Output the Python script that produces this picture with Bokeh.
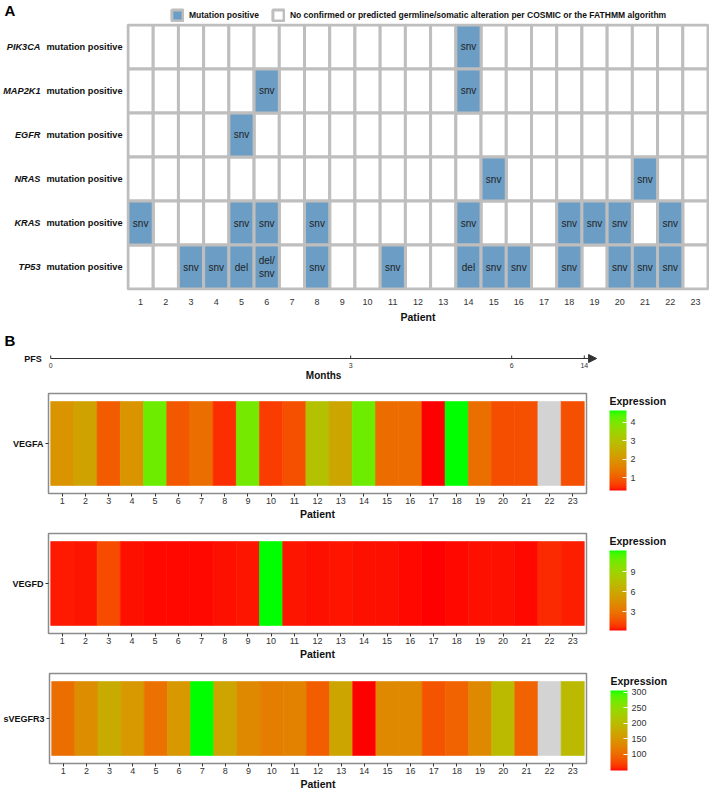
import math
from bokeh.plotting import figure
from bokeh.models import (ColumnDataSource, LinearColorMapper, ColorBar, FixedTicker,
                          Legend, LegendItem, LinearAxis, Arrow, NormalHead, Range1d)
from bokeh.transform import transform
from bokeh.core.properties import value
from bokeh.embed import file_html
from bokeh.resources import INLINE

FONT = "Liberation Sans"

# ---------------- data ----------------
patients = list(range(1, 24))
gene_names = ["PIK3CA", "MAP2K1", "EGFR", "NRAS", "KRAS", "TP53"]
pik3ca_pat = [14]
pik3ca_type = ["snv"]
map2k1_pat = [6, 14]
map2k1_type = ["snv", "snv"]
egfr_pat = [5]
egfr_type = ["snv"]
nras_pat = [15, 21]
nras_type = ["snv", "snv"]
kras_pat = [1, 5, 6, 8, 14, 18, 19, 20, 22]
kras_type = ["snv", "snv", "snv", "snv", "snv", "snv", "snv", "snv", "snv"]
tp53_pat = [3, 4, 5, 6, 8, 11, 14, 15, 16, 18, 20, 21, 22]
tp53_type = ["snv", "snv", "del", "del/\nsnv", "snv", "snv", "del", "snv", "snv",
             "snv", "snv", "snv", "snv"]
legend_labels = ["Mutation positive",
                 "No confirmed or predicted germline/somatic alteration per COSMIC or the FATHMM algorithm"]

pfs_tick_pos = [0.5, 13.43, 20.37, 23.5]
pfs_tick_labels = ["0", "3", "6", "14"]
pfs_arrow_end = 24.03

NAN = float("nan")
vegfa = [1.95, 2.25, 0.95, 1.95, 4.11, 0.91, 1.25, 0.47, 4.02, 0.60, 0.82, 2.98,
         2.33, 4.11, 1.21, 1.21, 0.30, 4.63, 1.25, 0.78, 0.82, NAN, 0.82]
vegfa_ticks = [1, 2, 3, 4]
vegfd = [0.35, 0.30, 1.40, 0.25, 0.20, 0.22, 0.20, 0.25, 0.30, 12.20, 0.30, 0.25,
         0.30, 0.25, 0.28, 0.20, 0.15, 0.20, 0.25, 0.25, 0.20, 0.60, 0.40]
vegfd_ticks = [3, 6, 9]
svegfr3 = [105, 138, 177, 151, 107, 151, 306, 167, 133, 120, 125, 89,
           169, 48, 133, 133, 82, 94, 133, 198, 94, NAN, 198]
svegfr3_ticks = [100, 150, 200, 250, 300]

# ---------------- palette: red -> green interpolated in CIELAB ----------------
def _lin(c):
    c = c / 255.0
    return c / 12.92 if c <= 0.04045 else ((c + 0.055) / 1.055) ** 2.4

def _f(t):
    return t ** (1 / 3) if t > 0.008856 else 7.787 * t + 16 / 116

def rgb_to_lab(rgb):
    r, g, b = (_lin(c) for c in rgb)
    X = 0.4124564 * r + 0.3575761 * g + 0.1804375 * b
    Y = 0.2126729 * r + 0.7151522 * g + 0.0721750 * b
    Z = 0.0193339 * r + 0.1191920 * g + 0.9503041 * b
    fx, fy, fz = _f(X / 0.95047), _f(Y), _f(Z / 1.08883)
    return (116 * fy - 16, 500 * (fx - fy), 200 * (fy - fz))

def _finv(f):
    return f ** 3 if f ** 3 > 0.008856 else (f - 16 / 116) / 7.787

def _gam(c):
    c = min(max(c, 0.0), 1.0)
    return 12.92 * c if c <= 0.0031308 else 1.055 * c ** (1 / 2.4) - 0.055

def lab_to_hex(lab):
    L, a, b = lab
    fy = (L + 16) / 116
    fx = fy + a / 500
    fz = fy - b / 200
    X, Y, Z = 0.95047 * _finv(fx), _finv(fy), 1.08883 * _finv(fz)
    r = 3.2404542 * X - 1.5371385 * Y - 0.4985314 * Z
    g = -0.9692660 * X + 1.8760108 * Y + 0.0415560 * Z
    bb = 0.0556434 * X - 0.2040259 * Y + 1.0572252 * Z
    return "#%02x%02x%02x" % tuple(int(round(_gam(c) * 255)) for c in (r, g, bb))

lab_lo, lab_hi = rgb_to_lab((255, 0, 0)), rgb_to_lab((0, 255, 0))
PALETTE = [lab_to_hex(tuple(lo + (hi - lo) * i / 255 for lo, hi in zip(lab_lo, lab_hi)))
           for i in range(256)]

W = 709
GRID_LINE = "#BEBEBE"
BLUE = "#6B9DC5"
TXT = "#333333"
DARK = "#111111"


def bare(h, xr, yr):
    p = figure(width=W, height=h, toolbar_location=None, output_backend="svg",
               x_range=xr, y_range=yr, min_border=0, min_border_left=0,
               min_border_right=0, min_border_top=0, min_border_bottom=0,
               x_axis_location=None, y_axis_location=None)
    p.outline_line_color = None
    p.grid.grid_line_color = None
    return p

# ---------------- header: "A" + legend ----------------
HD_H = 23
pHead = bare(HD_H, Range1d(0, W), Range1d(HD_H, 0))
pHead.text(x=[4], y=[10], text=["A"], text_align="left", text_baseline="middle",
           text_font=value(FONT), text_font_size="15px", text_font_style="bold",
           text_color="#000000")
r_pos_key = pHead.rect(x=[-100], y=[-100], width=1, height=1, fill_color=BLUE,
                       line_color=GRID_LINE, line_width=3)
r_neg_key = pHead.rect(x=[-100], y=[-100], width=1, height=1, fill_color="white",
                       line_color=GRID_LINE, line_width=3)
legend = Legend(items=[LegendItem(label=legend_labels[0], renderers=[r_pos_key]),
                       LegendItem(label=legend_labels[1], renderers=[r_neg_key])],
                orientation="horizontal", location=(170, 1),
                glyph_width=14, glyph_height=14, label_standoff=5, spacing=12,
                padding=0, margin=0, border_line_color=None, background_fill_alpha=0,
                label_text_font=FONT, label_text_font_size="8.5px",
                label_text_font_style="bold", label_height=14, label_text_color=DARK)
pHead.add_layout(legend, "center")

# ---------------- Panel A grid ----------------
A_H = 302
a_left, a_bottom = 122, 34
a_fw = W - a_left
a_fh = A_H - a_bottom
pad_l, pad_r, pad_v = 1.5, 1.5, 1.5
cell_w = (a_fw - pad_l - pad_r) / 23.0
cell_h = (a_fh - 2 * pad_v) / 6.0
nrow = len(gene_names)
pA = figure(width=W, height=A_H, toolbar_location=None, output_backend="svg",
            x_range=Range1d(0.5 - pad_l / cell_w, 23.5 + pad_r / cell_w),
            y_range=Range1d(-0.5 - pad_v / cell_h, nrow - 0.5 + pad_v / cell_h),
            min_border_left=a_left, min_border_right=0, min_border_top=0,
            min_border_bottom=a_bottom, y_axis_location=None)
pA.outline_line_color = None
pA.grid.grid_line_color = None

mut_pats = [pik3ca_pat, map2k1_pat, egfr_pat, nras_pat, kras_pat, tp53_pat]
mut_types = [pik3ca_type, map2k1_type, egfr_type, nras_type, kras_type, tp53_type]
pos = dict(x=[], y=[], t=[])
neg = dict(x=[], y=[])
for i, (pats, types) in enumerate(zip(mut_pats, mut_types)):
    row = nrow - 1 - i
    look = dict(zip(pats, types))
    for pt in patients:
        if pt in look:
            pos["x"].append(pt); pos["y"].append(row); pos["t"].append(look[pt])
        else:
            neg["x"].append(pt); neg["y"].append(row)

pA.rect("x", "y", width=1, height=1, source=ColumnDataSource(neg),
        fill_color="white", line_color=GRID_LINE, line_width=3)
pos_src = ColumnDataSource(pos)
pA.rect("x", "y", width=1, height=1, source=pos_src,
        fill_color=BLUE, line_color=GRID_LINE, line_width=3)
pA.text("x", "y", text="t", source=pos_src, text_align="center", text_baseline="middle",
        text_font=value(FONT), text_font_size="10px", text_color="#222222",
        text_line_height=1.15)

# row labels as two stacked left axes: bold "mutation positive" + italic gene name
LFS = "9.2px"
row_ticks = [nrow - 1 - i for i in range(nrow)]
inner = LinearAxis(ticker=FixedTicker(ticks=row_ticks),
                   major_label_overrides={r: "mutation positive" for r in row_ticks})
outer = LinearAxis(ticker=FixedTicker(ticks=row_ticks),
                   major_label_overrides={r: g for r, g in zip(row_ticks, gene_names)})
for ax, style, stand in ((inner, "bold", 4), (outer, "bold italic", 3)):
    ax.axis_line_color = None
    ax.major_tick_line_color = None
    ax.minor_tick_line_color = None
    ax.major_tick_out = 0
    ax.major_tick_in = 0
    ax.major_label_standoff = stand
    ax.major_label_text_font = FONT
    ax.major_label_text_font_size = LFS
    ax.major_label_text_font_style = style
    ax.major_label_text_color = DARK
    pA.add_layout(ax, "left")

pA.xaxis.ticker = FixedTicker(ticks=patients)
pA.xaxis.axis_line_color = None
pA.xaxis.major_tick_line_color = None
pA.xaxis.minor_tick_line_color = None
pA.xaxis.major_tick_out = 0
pA.xaxis.major_label_standoff = 8
pA.xaxis.major_label_text_font = FONT
pA.xaxis.major_label_text_font_size = "9px"
pA.xaxis.major_label_text_color = TXT
pA.xaxis.axis_label = "Patient"
pA.xaxis.axis_label_standoff = 3
pA.xaxis.axis_label_text_font = FONT
pA.xaxis.axis_label_text_font_size = "10.5px"
pA.xaxis.axis_label_text_font_style = "bold"
pA.xaxis.axis_label_text_color = DARK

# ---------------- Heat map geometry ----------------
HM_UNIT = 23.2
hm_left = 48
hm_fw = 538
hm_pad = (hm_fw - 23 * HM_UNIT) / 2.0
hx0 = 0.5 - hm_pad / HM_UNIT
hx1 = 23.5 + hm_pad / HM_UNIT

# ---------------- PFS strip ----------------
P_H = 65
pfs_x0 = 0.5 - (hm_left + hm_pad) / HM_UNIT
pP = bare(P_H, Range1d(pfs_x0, pfs_x0 + W / HM_UNIT), Range1d(P_H, 0))
y_line = 33
pP.add_layout(Arrow(end=NormalHead(size=8, fill_color="#333333", line_color="#333333"),
                    x_start=pfs_tick_pos[0], y_start=y_line, x_end=pfs_arrow_end, y_end=y_line,
                    line_color="#333333", line_width=1.2))
pP.segment(x0=pfs_tick_pos, y0=[y_line] * len(pfs_tick_pos), x1=pfs_tick_pos,
           y1=[y_line - 3] * len(pfs_tick_pos), line_color="#333333", line_width=1)
pP.text(x=pfs_tick_pos, y=[y_line + 7] * len(pfs_tick_pos), text=pfs_tick_labels,
        text_align="center", text_baseline="middle", text_font=value(FONT),
        text_font_size="7px", text_color=TXT)
pP.text(x=[(pfs_tick_pos[0] + pfs_arrow_end) / 2], y=[y_line + 17], text=["Months"],
        text_align="center", text_baseline="middle", text_font=value(FONT),
        text_font_size="10px", text_font_style="bold", text_color=DARK)
pP.text(x=[pfs_tick_pos[0]], y=[y_line], text=["PFS"], x_offset=-9,
        text_align="right", text_baseline="middle", text_font=value(FONT),
        text_font_size="9px", text_font_style="bold", text_color=DARK)
pP.text(x=[pfs_x0 + 4 / HM_UNIT], y=[15], text=["B"], text_align="left",
        text_baseline="middle", text_font=value(FONT), text_font_size="15px",
        text_font_style="bold", text_color="#000000")

# ---------------- Heat maps ----------------
def heat(name, vals, ticks, h, top, fh):
    valid = [v for v in vals if v == v]
    mapper = LinearColorMapper(palette=PALETTE, low=min(valid), high=max(valid),
                               nan_color="#D3D3D3")
    src = ColumnDataSource(dict(x=patients, y=[1] * len(patients), v=vals))
    inset = 8.0
    tile_px = fh - 2 * inset
    ypad = inset / tile_px
    p = figure(width=W, height=h, toolbar_location=None, output_backend="svg",
               x_range=Range1d(hx0, hx1), y_range=Range1d(0.5 - ypad, 1.5 + ypad),
               min_border_left=hm_left, min_border_right=W - hm_left - hm_fw,
               min_border_top=top, min_border_bottom=h - top - fh)
    p.grid.grid_line_color = None
    p.outline_line_color = "#8C8C8C"
    p.outline_line_width = 1.5
    p.rect("x", "y", width=1, height=1, source=src, fill_color=transform("v", mapper),
           line_color=transform("v", mapper), line_width=0.6)
    p.xaxis.ticker = FixedTicker(ticks=patients)
    p.xaxis.axis_line_color = None
    p.xaxis.major_tick_line_color = "#333333"
    p.xaxis.major_tick_out = 3
    p.xaxis.major_tick_in = 0
    p.xaxis.minor_tick_line_color = None
    p.xaxis.major_label_standoff = 1
    p.xaxis.major_label_text_font = FONT
    p.xaxis.major_label_text_font_size = "9px"
    p.xaxis.major_label_text_color = TXT
    p.xaxis.axis_label = "Patient"
    p.xaxis.axis_label_standoff = 1
    p.xaxis.axis_label_text_font = FONT
    p.xaxis.axis_label_text_font_size = "10.5px"
    p.xaxis.axis_label_text_font_style = "bold"
    p.xaxis.axis_label_text_color = DARK
    p.yaxis.ticker = FixedTicker(ticks=[1])
    p.yaxis.major_label_overrides = {1: name}
    p.yaxis.axis_line_color = None
    p.yaxis.major_tick_line_color = "#333333"
    p.yaxis.major_tick_out = 3
    p.yaxis.major_tick_in = 0
    p.yaxis.minor_tick_line_color = None
    p.yaxis.major_label_standoff = 2
    p.yaxis.major_label_text_font = FONT
    p.yaxis.major_label_text_font_size = "9px"
    p.yaxis.major_label_text_font_style = "bold"
    p.yaxis.major_label_text_color = DARK
    bar_x = hm_fw + 23
    cb = ColorBar(color_mapper=mapper, ticker=FixedTicker(ticks=ticks), width=17, height=80,
                  major_label_text_font=FONT, major_label_text_font_size="9px",
                  major_label_text_color=TXT, major_tick_line_color="white",
                  major_tick_in=4, major_tick_out=0, minor_tick_line_color=None,
                  bar_line_color=None, label_standoff=4, padding=0, margin=0,
                  location=(bar_x, fh - 97), border_line_color=None,
                  background_fill_alpha=0)
    p.add_layout(cb, "center")
    # colour-bar heading: a horizontal colour bar with an invisible 1px bar, so the
    # title is drawn level and outside the frame like the bar itself
    head = ColorBar(color_mapper=mapper, orientation="horizontal", width=60, height=1,
                    scale_alpha=0, ticker=FixedTicker(ticks=[]), title="Expression",
                    title_text_font=FONT, title_text_font_size="10.5px",
                    title_text_font_style="bold", title_text_color=DARK, title_standoff=0,
                    major_tick_line_color=None, minor_tick_line_color=None,
                    major_label_text_font_size="1px", bar_line_color=None, padding=0,
                    margin=0, label_standoff=0, location=(bar_x, fh - 14),
                    border_line_color=None, background_fill_alpha=0)
    p.add_layout(head, "center")
    return p

pH1 = heat("VEGFA", vegfa, vegfa_ticks, 139, 3, 100)
pH2 = heat("VEGFD", vegfd, vegfd_ticks, 139, 4, 100)
pH3 = heat("sVEGFR3", svegfr3, svegfr3_ticks, 130, 5, 90)

open("out.html", "w").write(file_html([pHead, pA, pP, pH1, pH2, pH3], INLINE))
